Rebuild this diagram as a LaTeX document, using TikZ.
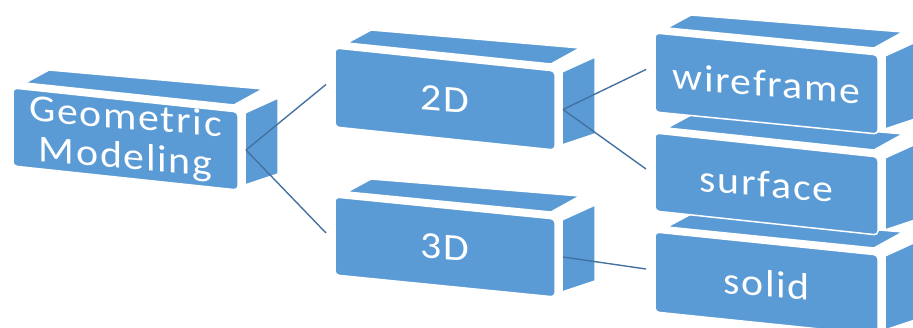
\documentclass[tikz,border=0pt]{standalone}
\usepackage{fontspec}
\setmainfont{Carlito}
\usetikzlibrary{calc}
\definecolor{boxblue}{RGB}{91,155,213}
\definecolor{linkblue}{RGB}{68,114,160}
\tikzset{
  boxface/.style={fill=boxblue, draw=white, line width=1.5pt, line join=round},
  frontface/.style={boxface, rounded corners=4pt},
  boxtext/.style={text=white, font=\fontsize{38}{40}\selectfont\addfontfeatures{LetterSpace=4}, align=center,
    xscale=1.1, yslant=-0.09, inner sep=0pt},
  connector/.style={draw=linkblue, line width=1.4pt},
}
\newcommand\mycube[7]{% name, x, y, W, drop, H, text
  \coordinate (#1-tl) at (#2,#3);
  \coordinate (#1-tr) at ($(#1-tl)+(#4,#5)$);
  \coordinate (#1-br) at ($(#1-tr)+(0,#6)$);
  \coordinate (#1-bl) at ($(#1-tl)+(0,#6)$);
  \path[boxface] ($(#1-tl)+(12,-5)$) -- ($(#1-tr)+(-4,-7)$) -- ($(#1-tr)+(25,-23)$) -- ($(#1-tl)+(36,-18)$) -- cycle;
  \path[boxface] ($(#1-tr)+(7,1)$) -- ($(#1-tr)+(40,-14)$) -- ($(#1-br)+(40,-16)$) -- ($(#1-br)+(7,-5)$) -- cycle;
  \path[frontface] (#1-tl) -- (#1-tr) -- (#1-br) -- (#1-bl) -- cycle;
  \node[boxtext] (#1) at ($(#1-tl)!0.5!(#1-br)$) {#7};
  \coordinate (#1-out) at ($(#1-tr)!0.5!(#1-br)+(8,-1)$);
  \coordinate (#1-in) at ($(#1-tl)!0.5!(#1-bl)+(-9,-3)$);
}
\begin{document}
\begin{tikzpicture}[x=1pt,y=-1pt]
  \useasboundingbox (0,0) rectangle (913,328);
  \clip (0,0) rectangle (913,328);
  \mycube{gm}{13}{88}{225}{24}{78}{Geometric\\Modeling}
  \mycube{d2}{335}{48}{220}{23}{79}{2D}
  \mycube{d3}{335}{197}{220}{22}{78}{3D}
  \mycube{sol}{655}{232}{223}{23}{80}{solid}
  \mycube{surf}{655}{133}{223}{24}{78}{surface}
  \mycube{wire}{655}{33}{223}{22}{79}{wireframe}
  \draw[connector] (gm-out) -- (d2-in);
  \draw[connector] (gm-out) -- (d3-in);
  \draw[connector] (d2-out) -- (wire-in);
  \draw[connector] (d2-out) -- (surf-in);
  \draw[connector] (d3-out) -- (sol-in);
\end{tikzpicture}
\end{document}
